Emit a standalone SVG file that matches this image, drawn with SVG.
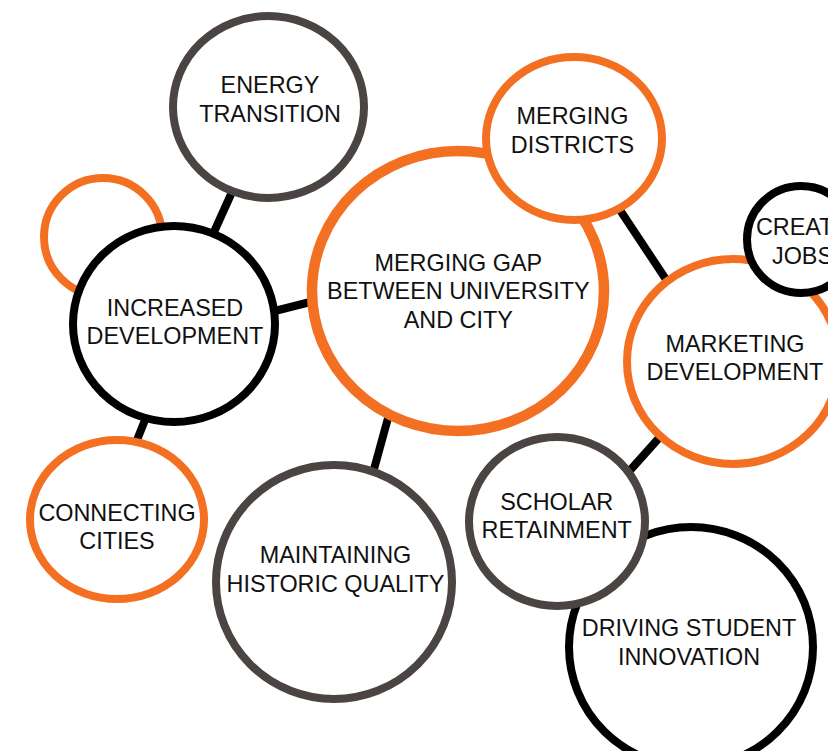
<svg xmlns="http://www.w3.org/2000/svg" width="828" height="751" viewBox="0 0 828 751">
  <defs>
    <style>
      .bg { fill: #ffffff; }
      .link { stroke: #000000; stroke-width: 8; stroke-linecap: butt; fill: none; }
      .node { fill: #ffffff; stroke-width: 8; }
      .orange { stroke: #F37022; }
      .grey { stroke: #4A4443; }
      .black { stroke: #000000; }
      .main { stroke-width: 10.5; }
      .label { font-family: "Liberation Sans", Arial, Helvetica, sans-serif; font-size: 23.4px; fill: #111111; text-anchor: middle; }
    </style>
  </defs>

  <rect class="bg" x="0" y="0" width="828" height="751"/>

  <!-- connectors (drawn first, the circles cover their ends) -->
  <g id="connectors">
    <line class="link" x1="241" y1="172" x2="205" y2="252"/>
    <line class="link" x1="255" y1="316" x2="330" y2="297"/>
    <line class="link" x1="151" y1="405" x2="131" y2="455"/>
    <line class="link" x1="393" y1="400" x2="371" y2="480"/>
    <line class="link" x1="612" y1="198" x2="675" y2="293"/>
    <line class="link" x1="676" y1="419" x2="616" y2="486"/>
  </g>

  <g id="node-extra">
    <ellipse class="node orange" cx="103" cy="237" rx="59" ry="59"/>
  </g>

  <g id="node-energy-transition">
    <ellipse class="node grey" cx="268.5" cy="107" rx="95.5" ry="91"/>
    <text class="label" x="270" y="92.5">ENERGY</text>
    <text class="label" x="270" y="121.5">TRANSITION</text>
  </g>

  <g id="node-increased-development">
    <ellipse class="node black" cx="174" cy="324" rx="101" ry="98"/>
    <text class="label" x="175" y="315.5">INCREASED</text>
    <text class="label" x="175" y="344">DEVELOPMENT</text>
  </g>

  <g id="node-connecting-cities">
    <ellipse class="node orange" cx="117" cy="519.5" rx="87" ry="79.5"/>
    <text class="label" x="117" y="520.5">CONNECTING</text>
    <text class="label" x="117" y="549.3">CITIES</text>
  </g>

  <g id="node-merging-gap">
    <ellipse class="node orange main" cx="458" cy="291" rx="146" ry="140"/>
    <text class="label" x="458.3" y="270.7">MERGING GAP</text>
    <text class="label" x="458.3" y="299">BETWEEN UNIVERSITY</text>
    <text class="label" x="458.3" y="328.3">AND CITY</text>
  </g>

  <g id="node-merging-districts">
    <ellipse class="node orange" cx="574" cy="138.5" rx="88" ry="81.5"/>
    <text class="label" x="572.5" y="124.3">MERGING</text>
    <text class="label" x="572.5" y="152.7">DISTRICTS</text>
  </g>

  <g id="node-maintaining-historic-quality">
    <ellipse class="node grey" cx="334" cy="582" rx="118" ry="117"/>
    <text class="label" x="335.5" y="562.7">MAINTAINING</text>
    <text class="label" x="335.5" y="591.7">HISTORIC QUALITY</text>
  </g>

  <g id="node-marketing-development">
    <ellipse class="node orange" cx="733" cy="361.5" rx="106" ry="102.5"/>
    <text class="label" x="735" y="351.7">MARKETING</text>
    <text class="label" x="735" y="380">DEVELOPMENT</text>
  </g>

  <g id="node-create-jobs">
    <ellipse class="node black" cx="801" cy="239.5" rx="54" ry="53.5"/>
    <text class="label" x="802.5" y="235">CREATE</text>
    <text class="label" x="802.5" y="264.3">JOBS</text>
  </g>

  <g id="node-driving-student-innovation">
    <ellipse class="node black" cx="691" cy="647" rx="122" ry="120"/>
    <text class="label" x="689" y="636">DRIVING STUDENT</text>
    <text class="label" x="689" y="665">INNOVATION</text>
  </g>

  <g id="node-scholar-retainment">
    <ellipse class="node grey" cx="557" cy="521.5" rx="88" ry="84.5"/>
    <text class="label" x="556.7" y="510">SCHOLAR</text>
    <text class="label" x="556.7" y="538.3">RETAINMENT</text>
  </g>
</svg>
